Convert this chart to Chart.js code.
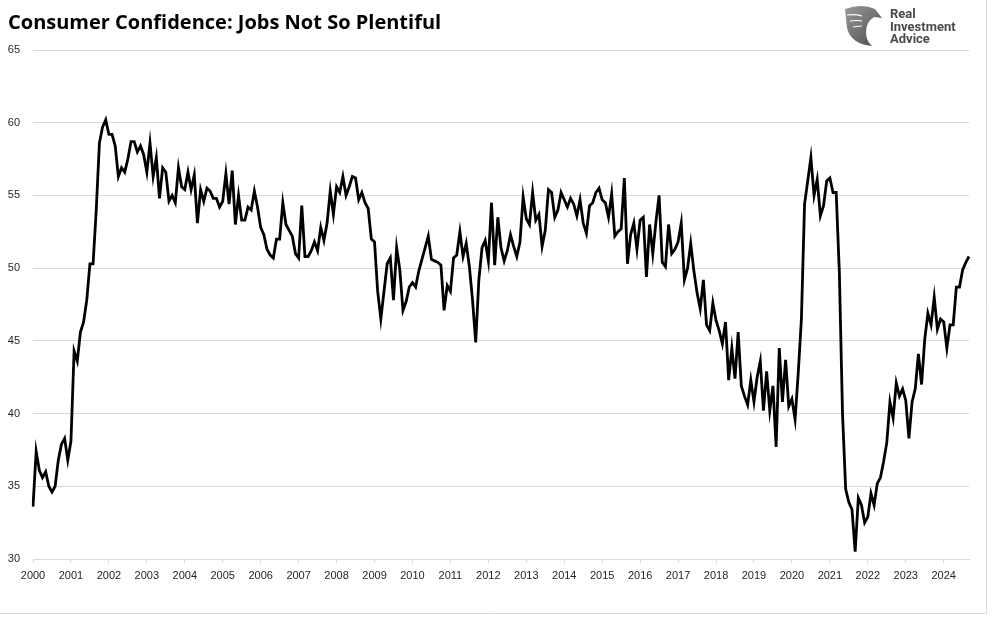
<!DOCTYPE html>
<html>
<head>
<meta charset="utf-8">
<script src="https://cdn.jsdelivr.net/npm/chart.js@4.4.0/dist/chart.umd.min.js"></script>
<style>
  html, body { margin: 0; padding: 0; background: #fff; }
  #wrap { width: 996px; height: 617px; position: relative; }
</style>
</head>
<body>
<div id="wrap"><canvas id="grafico"></canvas></div>
<script>
// tick labels on the x axis (one per January)
const years = ['2000', '2001', '2002', '2003', '2004', '2005', '2006', '2007', '2008', '2009',
  '2010', '2011', '2012', '2013', '2014', '2015', '2016', '2017', '2018', '2019',
  '2020', '2021', '2022', '2023', '2024'];

// monthly values, Jan 2000 .. Sep 2024
const jobsPlentiful = [
  33.6, 37.4, 36.1, 35.6, 36.0, 35.0, 34.6, 35.0, 36.8, 37.9, 38.3, 36.8, // 2000
  38.1, 44.3, 43.6, 45.6, 46.3, 47.8, 50.3, 50.3, 54.0, 58.6, 59.7, 60.2, // 2001
  59.2, 59.2, 58.4, 56.3, 56.9, 56.6, 57.5, 58.7, 58.7, 58.0, 58.4, 57.8, // 2002
  56.6, 58.6, 56.3, 57.6, 54.8, 56.9, 56.6, 54.6, 55.0, 54.5, 56.9, 55.6, // 2003
  55.4, 56.6, 55.4, 56.4, 53.1, 55.4, 54.6, 55.5, 55.3, 54.8, 54.8, 54.2, // 2004
  54.6, 56.5, 54.4, 56.7, 53.0, 55.0, 53.3, 53.3, 54.2, 54.0, 55.3, 54.2, // 2005
  52.8, 52.3, 51.3, 50.9, 50.7, 52.0, 52.0, 54.5, 53.0, 52.6, 52.2, 51.0, // 2006
  50.7, 54.3, 50.8, 50.8, 51.2, 51.8, 51.2, 52.8, 51.9, 53.1, 55.3, 53.7, // 2007
  55.6, 55.2, 56.3, 55.0, 55.6, 56.3, 56.2, 54.7, 55.2, 54.5, 54.1, 52.0, // 2008
  51.8, 48.4, 46.5, 48.4, 50.3, 50.7, 47.8, 51.4, 49.9, 47.1, 47.7, 48.7, // 2009
  49.0, 48.7, 49.8, 50.6, 51.4, 52.2, 50.6, 50.5, 50.4, 50.2, 47.1, 48.8, // 2010
  48.4, 50.7, 50.9, 52.5, 50.8, 51.7, 50.1, 47.8, 44.9, 49.2, 51.4, 51.9, // 2011
  50.5, 54.5, 50.2, 53.5, 51.4, 50.5, 51.2, 52.3, 51.5, 50.8, 51.8, 54.9, // 2012
  53.4, 53.0, 55.2, 53.3, 53.7, 51.5, 52.6, 55.4, 55.2, 53.5, 54.0, 55.2, // 2013
  54.7, 54.2, 54.8, 54.4, 53.6, 54.7, 53.1, 52.4, 54.3, 54.5, 55.2, 55.5, // 2014
  54.7, 54.5, 53.5, 55.1, 52.2, 52.5, 52.7, 56.2, 50.3, 52.3, 53.1, 51.3, // 2015
  53.3, 53.5, 49.4, 53.0, 51.0, 53.2, 55.0, 50.4, 50.1, 53.0, 51.0, 51.3, // 2016
  51.8, 53.1, 49.2, 50.0, 51.7, 49.8, 48.3, 47.2, 49.2, 46.1, 45.7, 47.6, // 2017
  46.4, 45.7, 44.8, 46.3, 42.3, 44.5, 42.4, 45.6, 41.9, 41.2, 40.6, 42.3, // 2018
  40.8, 42.5, 43.6, 40.2, 42.9, 40.2, 41.9, 37.7, 44.5, 40.8, 43.7, 40.5, // 2019
  41.0, 39.6, 42.8, 46.5, 54.4, 56.0, 57.6, 55.0, 56.1, 53.6, 54.3, 56.0, // 2020
  56.2, 55.2, 55.2, 49.7, 40.0, 34.8, 33.9, 33.4, 30.5, 34.2, 33.7, 32.5, // 2021
  32.9, 34.5, 33.7, 35.2, 35.6, 36.7, 38.0, 40.8, 39.7, 42.1, 41.2, 41.7, // 2022
  40.9, 38.3, 40.8, 41.7, 44.1, 42.0, 45.1, 46.9, 46.1, 48.0, 45.8, 46.5, // 2023
  46.3, 44.5, 46.1, 46.1, 48.7, 48.7, 49.9, 50.4, 50.8                    // 2024
];

// y axis tick values
const yTicks = [30, 35, 40, 45, 50, 55, 60, 65];

const monthLabels = jobsPlentiful.map((v, i) => years[Math.floor(i / 12)] + '-' + (i % 12 + 1));

const GRID = '#d9d9d9';

// titulo, logo y marco
const decoPlugin = {
  id: 'deco',
  afterDraw(chart) {
    const ctx = chart.ctx;
    ctx.save();
    // frame
    ctx.strokeStyle = GRID;
    ctx.lineWidth = 1;
    ctx.beginPath();
    ctx.moveTo(986.5, 0);
    ctx.lineTo(986.5, 613.5);
    ctx.lineTo(0, 613.5);
    ctx.stroke();

    // title
    ctx.fillStyle = '#000';
    ctx.font = 'bold 20px "Open Sans"';
    ctx.textBaseline = 'alphabetic';
    ctx.textAlign = 'left';
    ctx.fillText('Consumer Confidence: Jobs Not So Plentiful', 8, 29);

    // logo mark
    const g = ctx.createLinearGradient(845, 6, 882, 46);
    g.addColorStop(0, '#9a9a9a');
    g.addColorStop(1, '#4a4a4a');
    ctx.fillStyle = g;
    ctx.beginPath();
    ctx.moveTo(845, 9);
    ctx.quadraticCurveTo(862, 3, 875, 9);
    ctx.lineTo(882, 18);
    ctx.lineTo(874, 17);
    ctx.quadraticCurveTo(866, 22, 866, 32);
    ctx.quadraticCurveTo(866, 41, 872, 46);
    ctx.quadraticCurveTo(851, 44, 847, 28);
    ctx.closePath();
    ctx.fill();
    ctx.strokeStyle = '#fff';
    ctx.lineWidth = 1.2;
    for (let i = 0; i < 3; i++) {
      ctx.beginPath();
      ctx.moveTo(847 + i * 3, 15 + i * 6);
      ctx.quadraticCurveTo(856 + i * 2, 14 + i * 6, 862, 16 + i * 5);
      ctx.stroke();
    }

    // logo text
    ctx.fillStyle = '#4a4a4a';
    ctx.font = 'bold 13px Roboto';
    ctx.fillText('Real', 890, 18);
    ctx.fillText('Investment', 890, 30.5);
    ctx.fillText('Advice', 890, 43);
    ctx.restore();
  }
};

const ctx = document.getElementById('grafico').getContext('2d');
const myChart = new Chart(ctx, {
  type: 'line',
  data: {
    labels: monthLabels,
    datasets: [{
      label: 'Jobs Plentiful',
      data: jobsPlentiful,
      borderColor: '#000',
      borderWidth: 2.8,
      pointRadius: 0,
      tension: 0,
      fill: false,
    }],
  },
  options: {
    responsive: true,
    maintainAspectRatio: false,
    animation: false,
    layout: { padding: { top: 50, left: 6, right: 27, bottom: 0 } },
    plugins: {
      legend: { display: false },
      tooltip: { enabled: false },
    },
    scales: {
      x: {
        type: 'category',
        offset: false,
        afterBuildTicks(scale) {
          scale.ticks = scale.ticks.filter(t => t.value % 12 === 0);
        },
        afterFit(scale) { scale.height = 58; },
        ticks: {
          autoSkip: false,
          maxRotation: 0,
          padding: 6,
          color: '#262626',
          font: { family: '"Liberation Sans", Arial', size: 11 },
          callback: (value) => years[Math.floor(value / 12)],
        },
        grid: {
          drawOnChartArea: false,
          drawTicks: true,
          tickLength: 4,
          color: GRID,
        },
        border: { display: true, color: GRID },
      },
      y: {
        min: yTicks[0],
        max: yTicks[yTicks.length - 1],
        afterFit(scale) { scale.width = 27; },
        afterBuildTicks(scale) {
          scale.ticks = yTicks.map(v => ({ value: v }));
        },
        ticks: {
          padding: 13,
          color: '#262626',
          font: { family: '"Liberation Sans", Arial', size: 11 },
        },
        grid: { color: GRID, drawTicks: false },
        border: { display: false },
      },
    },
  },
  plugins: [decoPlugin],
});
</script>
</body>
</html>
